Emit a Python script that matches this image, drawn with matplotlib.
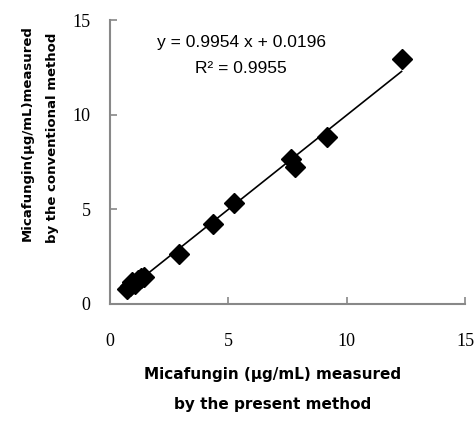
import numpy as np
import matplotlib
matplotlib.use("Agg")
import matplotlib.pyplot as plt

# measured by present method (x) vs conventional method (y), ug/mL
present = [0.72, 0.85, 0.95, 1.05, 1.20, 1.30, 1.45, 2.92, 4.37, 5.24, 7.63, 7.82, 9.15, 12.32]
conventional = [0.80, 0.95, 1.15, 1.05, 1.25, 1.35, 1.45, 2.64, 4.23, 5.35, 7.64, 7.22, 8.84, 12.92]
slope, intercept = 0.9954, 0.0196
r2 = 0.9955
ticks = [0, 5, 10, 15]

fig = plt.figure(figsize=(4.77, 4.23), dpi=100)
ax = fig.add_axes([110 / 477, 119 / 423, 355 / 477, 284 / 423])

ax.plot(present, conventional, 'D', color='black', ms=10, zorder=3)
xs = np.array([min(present), max(present)])
ax.plot(xs, slope * xs + intercept, color='black', lw=1.2, zorder=2)

ax.set_xlim(0, 15)
ax.set_ylim(0, 15)
ax.set_xticks(ticks)
ax.set_yticks(ticks)
for s in ['top', 'right']:
    ax.spines[s].set_visible(False)
for s in ['left', 'bottom']:
    ax.spines[s].set_color('#888888')
    ax.spines[s].set_linewidth(1.5)
ax.tick_params(direction='in', length=5, width=1.2, color='#888888',
               labelsize=13, labelfontfamily='Liberation Serif')
ax.tick_params(axis='x', pad=21)
ax.tick_params(axis='y', pad=14)

ax.text(0.37, 0.92, f"y = {slope} x + {intercept}", transform=ax.transAxes,
        ha='center', va='center', fontsize=12.5, family='Liberation Sans')
ax.text(0.37, 0.83, f"R² = {r2}", transform=ax.transAxes,
        ha='center', va='center', fontsize=12.5, family='Liberation Sans')

lab = dict(fontweight='bold', family='DejaVu Sans', ha='center', va='center')
fig.text(273 / 477, 1 - 375 / 423, "Micafungin (μg/mL) measured", fontsize=11, **lab)
fig.text(273 / 477, 1 - 404 / 423, "by the present method", fontsize=11, **lab)
fig.text(27 / 477, 1 - 133 / 423, "Micafungin(μg/mL)measured", rotation=90, fontsize=9.5, **lab)
fig.text(53 / 477, 1 - 138 / 423, "by the conventional method", rotation=90, fontsize=9.5, **lab)

fig.savefig("out.png", dpi=100)
